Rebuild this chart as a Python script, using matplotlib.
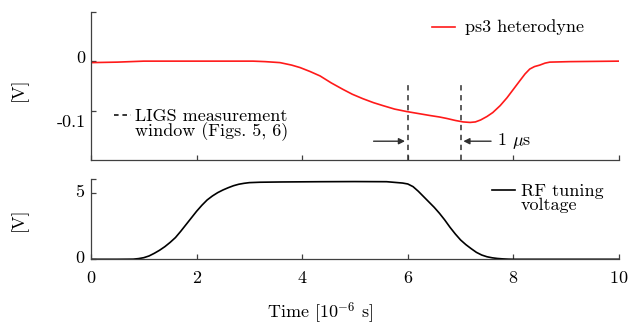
import matplotlib
matplotlib.use('Agg')
import matplotlib.pyplot as plt
from matplotlib.lines import Line2D
from matplotlib.transforms import ScaledTranslation

plt.rcParams['font.family'] = 'serif'
plt.rcParams['font.serif'] = ['cmr10']
plt.rcParams['mathtext.fontset'] = 'cm'
plt.rcParams['axes.formatter.use_mathtext'] = True
plt.rcParams['font.size'] = 13

# heterodyne signal
t_het = [0, 0.5, 1.0, 2.0, 3.07, 3.3, 3.58, 3.8, 3.96, 4.15, 4.34, 4.55,
         4.77, 4.95, 5.15, 5.35, 5.53, 5.75, 5.98, 6.2, 6.42, 6.6, 6.74,
         6.9, 7.05, 7.18, 7.28, 7.38, 7.5, 7.61, 7.75, 7.88, 8.0, 8.12,
         8.22, 8.31, 8.4, 8.5, 8.6, 8.69, 9.07, 10]
v_het = [-0.003, -0.002, 0.0, 0.0, 0.0, -0.001, -0.003, -0.008, -0.013,
         -0.021, -0.03, -0.044, -0.057, -0.067, -0.076, -0.084, -0.09,
         -0.097, -0.102, -0.106, -0.11, -0.113, -0.116, -0.12, -0.123,
         -0.124, -0.123, -0.119, -0.112, -0.104, -0.09, -0.074, -0.057,
         -0.04, -0.026, -0.016, -0.011, -0.008, -0.004, -0.002, -0.001, 0.0]

# RF tuning voltage
t_rf = [0, 0.5, 0.8, 0.9, 1.0, 1.1, 1.2, 1.3, 1.4, 1.5, 1.6, 1.7, 1.8,
        1.9, 2.0, 2.1, 2.2, 2.3, 2.4, 2.5, 2.6, 2.7, 2.8, 2.9, 3.0, 3.2,
        3.6, 4.34, 5.0, 5.6, 5.9, 6.0, 6.1, 6.2, 6.3, 6.4, 6.5, 6.6, 6.7,
        6.8, 6.9, 7.0, 7.1, 7.2, 7.3, 7.4, 7.5, 7.6, 7.7, 7.8, 7.9, 8.0,
        9.0, 10]
v_rf = [0, 0, 0.01, 0.05, 0.12, 0.25, 0.45, 0.68, 0.95, 1.27, 1.63, 2.1,
        2.6, 3.1, 3.6, 4.05, 4.45, 4.75, 5.0, 5.2, 5.37, 5.52, 5.63, 5.7,
        5.75, 5.78, 5.8, 5.82, 5.83, 5.82, 5.72, 5.65, 5.45, 5.1, 4.7,
        4.3, 3.9, 3.45, 2.95, 2.4, 1.9, 1.45, 1.1, 0.8, 0.52, 0.32, 0.19,
        0.11, 0.06, 0.03, 0.01, 0, 0, 0]

window = [6, 7]
xticks = [0, 2, 4, 6, 8, 10]

spine_col = '#404040'

fig = plt.figure(figsize=(6.3, 3.29), dpi=100)
ax1 = fig.add_axes([0.1444, 0.5137, 0.8381, 0.4507])
ax2 = fig.add_axes([0.1444, 0.2119, 0.8381, 0.2431])

for ax in (ax1, ax2):
    ax.spines['top'].set_visible(False)
    ax.spines['right'].set_visible(False)
    for s in ('left', 'bottom'):
        ax.spines[s].set_color(spine_col)
        ax.spines[s].set_linewidth(0.9)
    ax.tick_params(direction='in', length=3.5, color=spine_col, width=0.9)
    ax.set_xlim(0, 10)
    ax.set_xticks(xticks)

# top panel
ax1.plot(t_het, v_het, color='#ff1a1a', lw=1.2)
ax1.set_ylim(-0.2, 0.1)
ax1.set_yticks([-0.1, 0, 0.1])
ax1.set_yticklabels(['-0.1', '0', ''])
ax1.tick_params(axis='x', labelbottom=False)
ax1.tick_params(axis='y', pad=4)
ax1.set_ylabel('[V]')
ax1.yaxis.set_label_coords(-0.12, 0.48)

# tick labels sit a little off their ticks in the original
shifts1 = [-10, 4, 0]
for lab, dy in zip(ax1.get_yticklabels(), shifts1):
    lab.set_transform(lab.get_transform() + ScaledTranslation(0, dy / 100, fig.dpi_scale_trans))

ax1.vlines(window, -0.2, -0.04, colors='#303030', linestyles=(0, (3.5, 3)), lw=1.1)
ax1.annotate('', xy=(window[0], -0.162), xytext=(5.3, -0.162),
             arrowprops=dict(arrowstyle='-|>', color='#303030', lw=1, mutation_scale=9))
ax1.annotate('', xy=(window[1], -0.162), xytext=(7.63, -0.162),
             arrowprops=dict(arrowstyle='-|>', color='#303030', lw=1, mutation_scale=9))
ax1.text(7.69, -0.162, r'1 $\mu$s', va='center', ha='left')

ax1.add_line(Line2D([0.646, 0.689], [0.897, 0.897], transform=ax1.transAxes,
                    color='#ff1a1a', lw=1.2))
ax1.text(0.708, 0.897, 'ps3 heterodyne', transform=ax1.transAxes, va='center')
ax1.add_line(Line2D([0.0436, 0.0758], [0.303, 0.303], transform=ax1.transAxes,
                    color='black', lw=1.1, ls=(0, (3, 2.5))))
ax1.text(0.0833, 0.235, 'LIGS measurement\nwindow (Figs. 5, 6)', transform=ax1.transAxes,
         va='center', linespacing=0.9)

# bottom panel
ax2.plot(t_rf, v_rf, color='black', lw=1.2)
ax2.set_ylim(0, 6)
ax2.set_yticks([0, 5])
ax2.set_yticks([6], minor=True)
ax2.tick_params(which='minor', direction='in', length=3.5, color=spine_col, width=0.9)
ax2.tick_params(axis='x', pad=8)
ax2.tick_params(axis='y', pad=4)
ax2.set_ylabel('[V]')
ax2.yaxis.set_label_coords(-0.12, 0.5)

for lab in ax2.get_yticklabels():
    lab.set_transform(lab.get_transform() + ScaledTranslation(0, 3 / 100, fig.dpi_scale_trans))

ax2.add_line(Line2D([0.759, 0.803], [0.866, 0.866], transform=ax2.transAxes,
                    color='black', lw=1.2))
ax2.text(0.814, 0.76, 'RF tuning\nvoltage', transform=ax2.transAxes,
         va='center', linespacing=0.9)

fig.text(320 / 630, 1 - 313 / 329, r'Time [$10^{-6}$ s]', ha='center', va='center')

fig.savefig('out.png', dpi=100)
